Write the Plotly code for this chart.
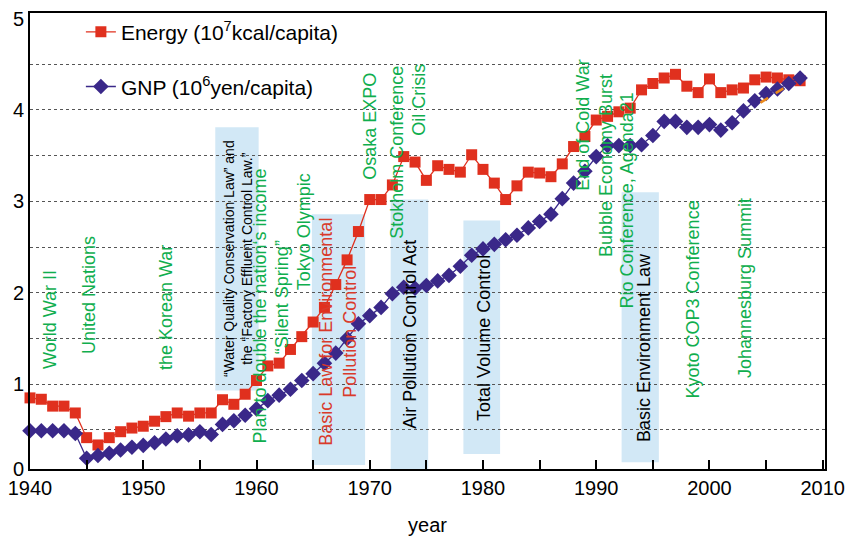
import plotly.graph_objects as go

# ---------------- data ----------------
years = list(range(1940, 2009))
energy = [0.85, 0.835, 0.76, 0.76, 0.685, 0.415, 0.335, 0.415, 0.48, 0.52,
          0.54, 0.595, 0.645, 0.685, 0.65, 0.685, 0.685, 0.83, 0.78, 0.89,
          1.04, 1.20, 1.23, 1.38, 1.52, 1.68, 1.84, 2.09, 2.36, 2.67,
          3.02, 3.02, 3.18, 3.49, 3.43, 3.23, 3.39, 3.35, 3.32, 3.51,
          3.35, 3.20, 3.02, 3.17, 3.32, 3.31, 3.27, 3.41, 3.60, 3.71,
          3.89, 3.93, 3.98, 4.02, 4.22, 4.29, 4.35, 4.39, 4.26, 4.19,
          4.34, 4.19, 4.22, 4.24, 4.33, 4.36, 4.35, 4.33, 4.32]
gnp = [0.49, 0.49, 0.49, 0.49, 0.46, 0.19, 0.22, 0.245, 0.28, 0.31,
       0.33, 0.36, 0.40, 0.435, 0.445, 0.48, 0.45, 0.56, 0.60, 0.66,
       0.73, 0.82, 0.88, 0.945, 1.04, 1.115, 1.23, 1.34, 1.50, 1.66,
       1.75, 1.84, 1.99, 2.06, 2.05, 2.08, 2.13, 2.19, 2.29, 2.41,
       2.48, 2.53, 2.58, 2.63, 2.71, 2.78, 2.86, 3.03, 3.20, 3.33,
       3.49, 3.61, 3.61, 3.61, 3.62, 3.72, 3.875, 3.875, 3.81, 3.81,
       3.84, 3.78, 3.86, 3.99, 4.10, 4.18, 4.23, 4.29, 4.35]
trend_x = [2004.5, 2006.7]
trend_y = [4.08, 4.25]

energy_name = "Energy (10<sup>7</sup>kcal/capita)"
gnp_name = "GNP (10<sup>6</sup>yen/capita)"

# highlighted law periods: (x0, x1, y0, y1)
law_boxes = [(1956.36, 1960.19, 0.93, 3.81),
             (1964.89, 1969.59, 0.115, 2.86),
             (1971.85, 1975.16, 0.072, 3.02),
             (1978.27, 1981.51, 0.237, 2.79),
             (1992.24, 1995.53, 0.147, 3.10)]

# events: (text, x, y_bottom)
green_events = [("World War II", 1941.83, 1.147),
                ("United Nations", 1945.22, 1.31),
                ("the Korean War", 1952.0, 1.137),
                ("Plan to double the nation\u2018s income", 1960.28, 0.33),
                ("\u201cSilent Spring\u201d", 1962.28, 1.31),
                ("Tokyo Olympic", 1964.2, 2.0),
                ("Osaka EXPO", 1970.03, 3.21),
                ("Stokholm Conference", 1972.46, 2.57),
                ("Oil Crisis", 1974.38, 3.70),
                ("End of Cold War", 1988.83, 3.10),
                ("Bubble Economy Burst", 1990.91, 2.37),
                ("Rio Conference, Agenda21", 1992.74, 1.81),
                ("Kyoto COP3 Conference", 1998.57, 0.825),
                ("Johannesburg Summit", 2003.1, 1.04)]
black_laws = [("Air Pollution Control Act", 1973.6, 0.49),
              ("Total Volume Control", 1980.03, 0.58),
              ("Basic Environment Law", 1994.22, 0.34)]
water_law = ("\u201cWater Quality Conservation Law\u201d and<br>the \u201cFactory Effluent Control Law.\u201d",
             1958.36, 1.06)
red_law = ("Basic Law for Environmental<br>Pollution Control", 1967.15, 0.31)

x_range = [1940, 2010.2]
x_tickvals = [1940, 1950, 1960, 1970, 1980, 1990, 2000, 2010]
x_minorvals = [1945, 1955, 1965, 1975, 1985, 1995, 2005]
y_range = [0.072, 5.061]
y_tickvals = [0.075, 1, 2, 3, 4, 5]
y_ticktext = ["0", "1", "2", "3", "4", "5"]
grid_vals = [0.5, 1, 1.5, 2, 2.5, 3, 3.5, 4, 4.5]

# ---------------- figure ----------------
FONT = "Liberation Sans, Arial, Helvetica, sans-serif"
GREEN = "#10ae4e"
RED = "#e0301e"
NAVY = "#3a2889"

fig = go.Figure()

for (x0, x1, y0, y1) in law_boxes:
    fig.add_shape(type="rect", xref="x", yref="y", x0=x0, x1=x1, y0=y0, y1=y1,
                  fillcolor="#d2e8f6", line_width=0, layer="below")

fig.add_trace(go.Scatter(x=years, y=energy, name=energy_name, mode="lines+markers",
                         line=dict(color=RED, width=1.3), cliponaxis=False,
                         marker=dict(symbol="square", size=11, color=RED),
                         legend="legend"))
fig.add_trace(go.Scatter(x=years, y=gnp, name=gnp_name, mode="lines+markers",
                         line=dict(color=NAVY, width=1.3), cliponaxis=False,
                         marker=dict(symbol="diamond", size=12, color=NAVY),
                         legend="legend2"))
fig.add_trace(go.Scatter(x=trend_x, y=trend_y, mode="lines", showlegend=False,
                         line=dict(color="#ea8a1c", width=2.5, dash="dash"),
                         hoverinfo="skip"))

for text, x, y in green_events:
    fig.add_annotation(text=text, x=x, y=y, xref="x", yref="y", textangle=-90,
                       xanchor="center", yanchor="bottom", showarrow=False,
                       font=dict(family=FONT, size=18, color=GREEN))
for text, x, y in black_laws:
    fig.add_annotation(text=text, x=x, y=y, xref="x", yref="y", textangle=-90,
                       xanchor="center", yanchor="bottom", showarrow=False,
                       font=dict(family=FONT, size=18, color="black"))
fig.add_annotation(text=water_law[0], x=water_law[1], y=water_law[2], xref="x", yref="y",
                   textangle=-90, xanchor="center", yanchor="bottom", showarrow=False,
                   align="center", font=dict(family=FONT, size=14, color="black"))
fig.add_annotation(text=red_law[0], x=red_law[1], y=red_law[2], xref="x", yref="y",
                   textangle=-90, xanchor="center", yanchor="bottom", showarrow=False,
                   align="center", font=dict(family=FONT, size=18, color="#d93a2b"))

fig.update_layout(
    width=853, height=541,
    margin=dict(l=27, r=19, t=8, b=69),
    paper_bgcolor="white", plot_bgcolor="white",
    font=dict(family=FONT, size=18, color="black"),
    legend=dict(x=0.064, y=0.958, xanchor="left", yanchor="middle",
                bgcolor="rgba(0,0,0,0)", font=dict(size=21)),
    legend2=dict(x=0.064, y=0.838, xanchor="left", yanchor="middle",
                 bgcolor="rgba(0,0,0,0)", font=dict(size=21)),
    xaxis=dict(range=x_range, tickvals=x_tickvals,
               ticks="inside", ticklen=9, tickwidth=1.5, tickcolor="black",
               showgrid=False, zeroline=False, ticklabeloverflow="allow",
               showline=True, linecolor="black", linewidth=2, mirror=True,
               tickfont=dict(size=20),
               minor=dict(tickvals=x_minorvals,
                          ticks="inside", ticklen=9, tickwidth=1.5, tickcolor="black"),
               title=dict(text="year", font=dict(size=20), standoff=20)),
    yaxis=dict(range=y_range, tickvals=y_tickvals, ticktext=y_ticktext,
               ticks="", showgrid=False, zeroline=False,
               showline=True, linecolor="black", linewidth=2, mirror=True,
               tickfont=dict(size=20),
               minor=dict(tickvals=grid_vals, showgrid=True, gridcolor="#555555",
                          griddash="dot", gridwidth=1, ticks="")),
)

fig.write_html("out.html")
